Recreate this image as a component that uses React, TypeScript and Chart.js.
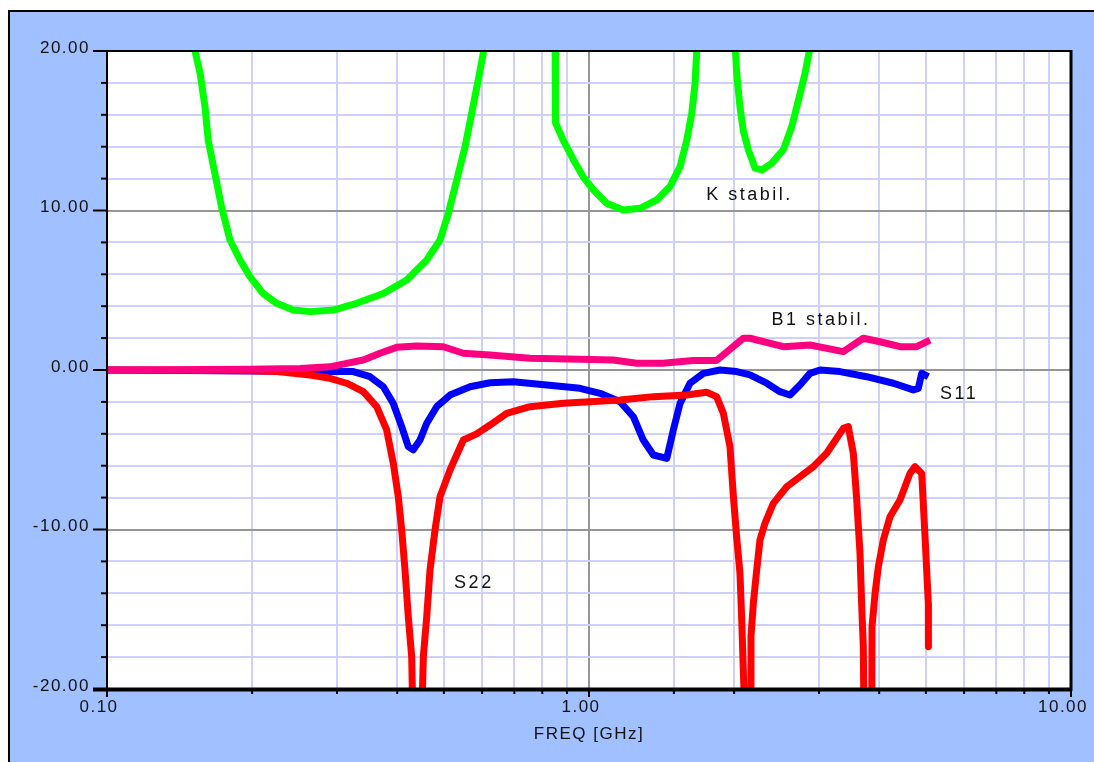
import React, { useEffect, useRef } from 'react';
import { Chart, registerables } from 'chart.js';

Chart.register(...registerables);

// ---- data (frequency in GHz, level in dB) ----
const kFreq = [
  0.1515, 0.1523, 0.156, 0.1597, 0.1622, 0.1675, 0.1729, 0.18, 0.1888, 0.198, 0.2107, 0.225, 0.2435, 0.2638,
  0.2948, 0.3296, 0.3744, 0.4186, 0.4606, 0.4908, 0.5107, 0.5316, 0.5532, 0.571, 0.5892, 0.6035, 0.607,
  0.72,
  0.8503, 0.852, 0.8845, 0.9277, 0.9731, 1.0207, 1.088, 1.178, 1.276, 1.382, 1.472, 1.545, 1.595, 1.634, 1.66,
  1.673, 1.676,
  1.85,
  2.005, 2.025, 2.057, 2.09, 2.141, 2.211, 2.283, 2.393, 2.53, 2.634, 2.719, 2.807, 2.865, 2.87,
];
const kVal = [
  21, 20, 18.6, 16.5, 14.4, 12.3, 10.2, 8.15, 6.9, 5.85, 4.8, 4.18, 3.76, 3.66,
  3.76, 4.18, 4.8, 5.64, 6.9, 8.15, 9.82, 11.9, 14.0, 16.1, 18.2, 19.85, 21,
  null,
  21, 15.5, 14.4, 13.2, 12.1, 11.3, 10.45, 10.03, 10.14, 10.66, 11.5, 12.75, 14.4, 16.1, 18.0,
  20, 21,
  null,
  21, 18.6, 16.5, 15.0, 13.8, 12.65, 12.54, 12.96, 13.8, 15.25, 16.9, 18.6, 20, 21,
];

const b1Freq = [
  0.1, 0.198, 0.2515, 0.29, 0.3142, 0.3402, 0.3685, 0.399, 0.4391, 0.4987, 0.5487, 0.6232, 0.7545, 0.958,
  1.123, 1.256, 1.424, 1.644, 1.84, 2.09, 2.158, 2.53, 2.874, 3.37, 3.708, 4.016, 4.418, 4.786, 5.099,
];
const b1Val = [
  0, 0.05, 0.1, 0.2, 0.42, 0.63, 1.05, 1.42, 1.5, 1.46, 1.05, 0.94, 0.73, 0.67,
  0.63, 0.42, 0.42, 0.6, 0.6, 1.99, 1.99, 1.46, 1.57, 1.15, 1.99, 1.77, 1.46, 1.46, 1.88,
];

const s11Freq = [
  0.1, 0.2902, 0.3243, 0.3513, 0.3744, 0.3926, 0.4087, 0.4218, 0.432, 0.4461, 0.4606, 0.4831, 0.5148, 0.5665,
  0.6232, 0.6966, 0.8172, 0.958, 1.054, 1.16, 1.236, 1.296, 1.36, 1.45, 1.496, 1.545, 1.62, 1.727, 1.87,
  2.025, 2.158, 2.337, 2.49, 2.612, 2.74, 2.874, 3.015, 3.317, 3.768, 4.28, 4.708, 4.823, 4.901, 5.058,
];
const s11Val = [
  0, -0.1, -0.1, -0.42, -1.05, -2.1, -3.55, -4.8, -5.0, -4.39, -3.34, -2.3, -1.57, -1.05,
  -0.8, -0.73, -0.94, -1.15, -1.46, -1.99, -2.93, -4.39, -5.33, -5.54, -3.76, -2.09, -0.83, -0.21, 0,
  -0.1, -0.31, -0.83, -1.36, -1.57, -0.94, -0.21, 0, -0.1, -0.42, -0.83, -1.25, -1.15, -0.21, -0.42,
];

const s22Freq = [
  0.1, 0.198, 0.225, 0.2638, 0.2902, 0.3142, 0.3402, 0.3627, 0.3804, 0.3926, 0.4021, 0.4087, 0.4152, 0.4218,
  0.4287, 0.4313, 0.4497, 0.4532, 0.4606, 0.4679, 0.4792, 0.4908, 0.5148, 0.5487, 0.5848, 0.6232, 0.6749,
  0.7545, 0.8845, 1.005, 1.16, 1.36, 1.595, 1.754, 1.84, 1.9, 1.961, 1.993, 2.025, 2.057, 2.074, 2.09, 2.107,
  2.158, 2.168, 2.193, 2.228, 2.263, 2.318, 2.412, 2.572, 2.74, 2.92, 3.112, 3.37, 3.451, 3.535, 3.593, 3.65,
  3.68, 3.708, 3.72, 3.86, 3.865, 3.922, 3.984, 4.08, 4.212, 4.418, 4.634, 4.746, 4.901, 4.979, 5.058, 5.06,
];
const s22Val = [
  0, -0.05, -0.1, -0.31, -0.52, -0.83, -1.36, -2.3, -3.76, -5.85, -7.94, -10.03, -12.54, -15.47,
  -17.97, -22, -22, -17.97, -15.47, -12.54, -10.03, -7.94, -6.27, -4.39, -4.0, -3.45, -2.72,
  -2.3, -2.09, -1.99, -1.88, -1.67, -1.57, -1.4, -1.67, -2.72, -4.8, -7.9, -10.5, -12.75, -15.6, -18.8, -22,
  -22, -16.7, -14.6, -12.54, -10.66, -9.61, -8.36, -7.32, -6.69, -6.06, -5.22, -3.66, -3.55, -5.22, -8.15, -11.5,
  -14.84, -17.35, -22, -22, -16.1, -14.0, -12.33, -10.66, -9.2, -8.15, -6.48, -6.06, -6.48, -10.45, -14.63, -17.35,
];

const noteText = ['K stabil.', 'B1 stabil.', 'S11', 'S22'];
const noteFreq = [1.75, 2.39, 5.35, 0.525];
const noteVal = [11.0, 3.13, -1.5, -13.35];

const xTitle = 'FREQ [GHz]';

// ---- styles ----
const FONT = '"Liberation Sans", Arial, sans-serif';
const LAVENDER = 'rgb(208,208,255)';
const GRAY = 'rgb(150,150,150)';

const isDecade = (v: number) => Math.abs(Math.log10(v) - Math.round(Math.log10(v))) < 1e-6;
const toPts = (xs: number[], ys: (number | null)[]) => xs.map((x, i) => ({ x, y: ys[i] }));

const framePlugin = {
  id: 'framePlugin',
  beforeDraw(chart: any) {
    const { ctx, chartArea: a } = chart;
    ctx.letterSpacing = '1.5px';
    ctx.save();
    ctx.fillStyle = '#fff';
    ctx.fillRect(a.left, a.top, a.right - a.left, a.bottom - a.top);
    ctx.restore();
  },
  afterDatasetsDraw(chart: any) {
    const { ctx, chartArea: a, scales } = chart;
    const xs = scales.x;
    const ys = scales.y;
    ctx.save();
    ctx.strokeStyle = '#000';
    const seg = (x1: number, y1: number, x2: number, y2: number, w: number) => {
      ctx.lineWidth = w;
      ctx.beginPath();
      ctx.moveTo(x1, y1);
      ctx.lineTo(x2, y2);
      ctx.stroke();
    };
    ys.ticks.forEach((t: any) => {
      const py = ys.getPixelForValue(t.value);
      const len = Math.abs(t.value % 10) < 1e-9 ? 14 : 6;
      seg(a.left - len, py, a.left, py, 2);
    });
    xs.ticks.forEach((t: any) => {
      const px = xs.getPixelForValue(t.value);
      const len = isDecade(t.value) ? 8 : 5;
      seg(px, a.bottom, px, a.bottom + len, 2);
    });
    seg(a.left - 1, a.top, a.right, a.top, 2);
    seg(a.left, a.top, a.left, a.bottom + 2, 2);
    seg(a.right, a.top - 1, a.right, a.bottom + 2, 3);
    seg(a.left - 14, a.bottom + 0.5, a.right + 1, a.bottom + 0.5, 4);

    ctx.font = '18px ' + FONT;
    ctx.letterSpacing = '2.5px';
    ctx.fillStyle = '#111';
    ctx.textAlign = 'left';
    ctx.textBaseline = 'middle';
    noteText.forEach((txt, i) => {
      ctx.fillText(txt, xs.getPixelForValue(noteFreq[i]), ys.getPixelForValue(noteVal[i]));
    });
    ctx.restore();
  },
};

export default function App() {
  const ref = useRef<HTMLCanvasElement | null>(null);

  useEffect(() => {
    if (!ref.current) return;
    const line = (label: string, color: string, xs: number[], ys: (number | null)[]) => ({
      label,
      data: toPts(xs, ys),
      borderColor: color,
      backgroundColor: color,
      borderWidth: 7,
      pointRadius: 0,
      tension: 0,
      spanGaps: false,
      clip: 0,
      borderJoinStyle: 'round' as const,
    });
    const chart = new Chart(ref.current, {
      type: 'line',
      data: {
        datasets: [
          line('B1 stabil.', 'rgb(255,0,128)', b1Freq, b1Val),
          line('S22', 'rgb(255,0,0)', s22Freq, s22Val),
          line('S11', 'rgb(0,0,255)', s11Freq, s11Val),
          line('K stabil.', 'rgb(0,255,0)', kFreq, kVal),
        ],
      },
      options: {
        animation: false,
        responsive: false,
        devicePixelRatio: 1,
        layout: { padding: { top: 39, right: 23, left: 0, bottom: 0 } },
        plugins: { legend: { display: false }, tooltip: { enabled: false } },
        scales: {
          x: {
            type: 'logarithmic',
            min: 0.1,
            max: 10,
            afterFit: (s: any) => {
              s.height = 73;
              s.paddingLeft = 0;
              s.paddingRight = 0;
            },
            border: { display: false },
            grid: {
              drawTicks: false,
              lineWidth: 2,
              color: (c: any) => (c.tick && isDecade(c.tick.value) ? GRAY : LAVENDER),
            },
            ticks: {
              autoSkip: false,
              maxRotation: 0,
              padding: 8,
              labelOffset: -8,
              color: '#111',
              font: { family: FONT, size: 17 },
              callback: (v: any) => (isDecade(Number(v)) ? Number(v).toFixed(2) : ''),
            },
            title: {
              display: true,
              text: xTitle,
              color: '#111',
              font: { family: FONT, size: 17 },
              padding: { top: 0, bottom: 17 },
            },
          },
          y: {
            type: 'linear',
            min: -20,
            max: 20,
            afterFit: (s: any) => {
              s.width = 97;
              s.paddingTop = 0;
              s.paddingBottom = 0;
            },
            border: { display: false },
            grid: {
              drawTicks: false,
              lineWidth: 2,
              color: (c: any) => (c.tick && Math.abs(c.tick.value % 10) < 1e-9 ? GRAY : LAVENDER),
            },
            ticks: {
              stepSize: 2,
              maxTicksLimit: 100,
              autoSkip: false,
              padding: 17,
              labelOffset: -3,
              color: '#111',
              font: { family: FONT, size: 17 },
              callback: (v: any) => (Math.abs(Number(v) % 10) < 1e-9 ? Number(v).toFixed(2) : ''),
            },
          },
        },
      },
      plugins: [framePlugin],
    });
    return () => chart.destroy();
  }, []);

  return (
    <div
      style={{
        position: 'fixed',
        left: 8,
        top: 10,
        width: 1086,
        height: 752,
        borderTop: '2px solid #000',
        borderLeft: '2px solid #000',
        background: 'rgb(160,192,255)',
        overflow: 'hidden',
      }}
    >
      <canvas ref={ref} width={1084} height={750} style={{ display: 'block', width: 1084, height: 750 }} />
    </div>
  );
}
